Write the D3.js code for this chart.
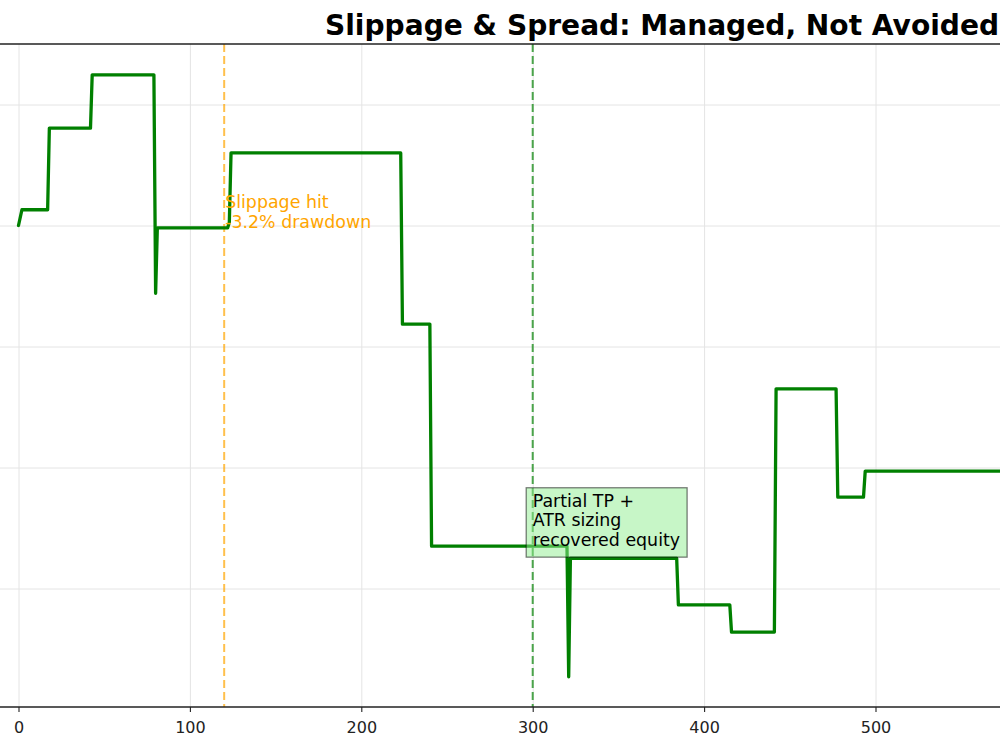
<!DOCTYPE html>
<html>
<head>
<meta charset="utf-8">
<script src="https://cdn.jsdelivr.net/npm/d3@7"></script>
<style>
  body { margin: 0; background: #fff; }
  svg { display: block; }
  text { font-family: "DejaVu Sans", sans-serif; }
</style>
</head>
<body>
<div class="chart"></div>
<script>
// equity curve as (trade index, equity) breakpoints
const tradeIdx = [0, 2, 17, 18, 42, 43, 79, 80, 81, 122, 123, 124, 223, 224, 240, 241,
  320, 321, 322, 384, 385, 415, 416, 441, 442, 477, 478, 493, 494, 580];
const equity = [10000, 10026, 10026, 10161, 10161, 10249, 10249, 9888, 9996, 9996, 10005, 10120, 10120, 9837, 9837, 9470,
  9470, 9254, 9450, 9450, 9373, 9373, 9328, 9328, 9730, 9730, 9551, 9551, 9594, 9594];

const xTicks = [0, 100, 200, 300, 400, 500];
const yTicks = [9400, 9600, 9800, 10000, 10200];
const slipAt = 120;
const recoverAt = 300;
const titleText = 'Slippage & Spread: Managed, Not Avoided';
const slipNote = ['Slippage hit', '-3.2% drawdown'];
const recoveryNote = ['Partial TP +', 'ATR sizing', 'recovered equity'];

const WIDTH = 1000, HEIGHT = 750;
const MARGINS = {top: 44, bottom: 43, left: 0, right: 0};
const plotBottom = HEIGHT - MARGINS.bottom;
const noteSize = 17.4;
const lineGap = 19.7;

const svg = d3.select('.chart')
  .append('svg')
  .attr('width', WIDTH)
  .attr('height', HEIGHT);

const xRange = d3.scaleLinear()
  .domain([0, 500])
  .range([18.5, 875.5]);
const yRange = d3.scaleLinear()
  .domain([9400, 10200])
  .range([588.5, 104.5]);

svg.append('clipPath')
  .attr('id', 'plot-clip')
  .append('rect')
  .attr('x', 0)
  .attr('y', MARGINS.top)
  .attr('width', WIDTH)
  .attr('height', plotBottom - MARGINS.top);

/**
 * grid
 */
const xGrid = svg.append('g')
  .attr('transform', 'translate(0,' + plotBottom + ')')
  .call(d3.axisBottom(xRange).tickValues(xTicks).tickSize(-(plotBottom - MARGINS.top)).tickFormat(''));
xGrid.select('.domain').remove();
xGrid.selectAll('line').attr('stroke', '#e4e4e4').attr('stroke-width', 1);

const yGrid = svg.append('g')
  .call(d3.axisLeft(yRange).tickValues(yTicks).tickSize(-WIDTH).tickFormat(''));
yGrid.select('.domain').remove();
yGrid.selectAll('line').attr('stroke', '#e4e4e4').attr('stroke-width', 1);

/**
 * event lines
 */
svg.append('line')
  .attr('x1', xRange(slipAt)).attr('x2', xRange(slipAt))
  .attr('y1', MARGINS.top).attr('y2', plotBottom)
  .attr('stroke', 'orange')
  .attr('stroke-opacity', 0.7)
  .attr('stroke-width', 2)
  .attr('stroke-dasharray', '8,4');
svg.append('line')
  .attr('x1', xRange(recoverAt)).attr('x2', xRange(recoverAt))
  .attr('y1', MARGINS.top).attr('y2', plotBottom)
  .attr('stroke', 'green')
  .attr('stroke-opacity', 0.7)
  .attr('stroke-width', 2)
  .attr('stroke-dasharray', '8,4');

/**
 * equity line
 */
const lineFunction = d3.line()
  .x(function (d) { return xRange(d[0]); })
  .y(function (d) { return yRange(d[1]); })
  .curve(d3.curveLinear);

svg.append('path')
  .datum(d3.zip(tradeIdx, equity))
  .attr('d', lineFunction)
  .attr('clip-path', 'url(#plot-clip)')
  .attr('fill', 'none')
  .attr('stroke', 'green')
  .attr('stroke-width', 3.3)
  .attr('stroke-linejoin', 'round')
  .attr('stroke-linecap', 'round');

/**
 * annotations
 */
const slipText = svg.append('text')
  .attr('x', xRange(slipAt) + 1)
  .attr('y', yRange(9996) - lineGap)
  .style('font-size', noteSize + 'px')
  .style('fill', 'orange');
slipNote.forEach(function (t, i) {
  slipText.append('tspan')
    .attr('x', xRange(slipAt) + 1)
    .attr('dy', i === 0 ? 0 : lineGap)
    .text(t);
});

const noteG = svg.append('g');
const noteRect = noteG.append('rect');
const firstBase = yRange(9470) - 2 * lineGap;
const noteText = noteG.append('text')
  .attr('x', xRange(recoverAt))
  .attr('y', firstBase)
  .style('font-size', noteSize + 'px')
  .style('fill', '#000');
recoveryNote.forEach(function (t, i) {
  noteText.append('tspan')
    .attr('x', xRange(recoverAt))
    .attr('dy', i === 0 ? 0 : lineGap)
    .text(t);
});
const bb = noteText.node().getBBox();
noteRect
  .attr('x', bb.x - 6.5)
  .attr('y', firstBase - 19)
  .attr('width', bb.width + 13.5)
  .attr('height', 2 * lineGap + 30)
  .attr('fill', 'lightgreen')
  .attr('fill-opacity', 0.5)
  .attr('stroke', '#000')
  .attr('stroke-opacity', 0.5)
  .attr('stroke-width', 1.3);

/**
 * spines, x axis, title
 */
svg.append('line')
  .attr('x1', 0).attr('x2', WIDTH)
  .attr('y1', MARGINS.top).attr('y2', MARGINS.top)
  .attr('stroke', '#222').attr('stroke-width', 1.3);

const xAxisg = svg.append('g')
  .attr('transform', 'translate(0,' + plotBottom + ')')
  .call(d3.axisBottom(xRange).tickValues(xTicks).tickSize(5).tickPadding(10).tickFormat(d3.format('d')));
xAxisg.select('.domain').remove();
xAxisg.selectAll('line').attr('stroke', '#222').attr('stroke-width', 1.1);
xAxisg.selectAll('text')
  .style('font-size', '16px')
  .style('font-family', '"DejaVu Sans", sans-serif')
  .style('fill', '#222');
svg.append('line')
  .attr('x1', 0).attr('x2', WIDTH)
  .attr('y1', plotBottom).attr('y2', plotBottom)
  .attr('stroke', '#222').attr('stroke-width', 1.3);

svg.append('text')
  .attr('x', 325)
  .attr('y', 35)
  .style('font-size', '28.1px')
  .style('font-weight', 'bold')
  .style('fill', '#000')
  .text(titleText);
</script>
</body>
</html>
